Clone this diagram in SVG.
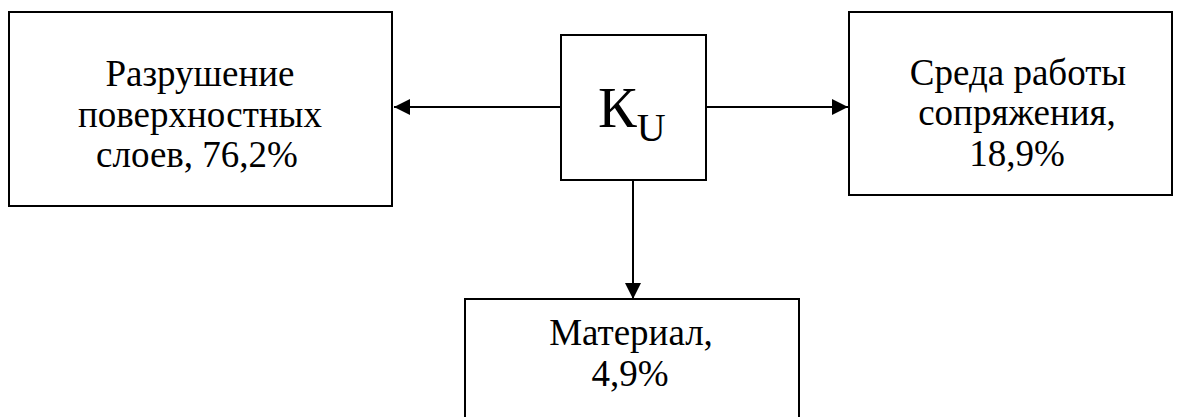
<svg xmlns="http://www.w3.org/2000/svg" width="1181" height="417" viewBox="0 0 1181 417">
<style>
.box{fill:#fff;stroke:#000;stroke-width:2}
.c{stroke:#000;stroke-width:2;fill:none}
</style>
<defs>
<marker id="ah" viewBox="0 0 16 16" refX="16" refY="8" markerWidth="16" markerHeight="16" markerUnits="userSpaceOnUse" orient="auto">
<path d="M0,0 L16,8 L0,16 Z" fill="#000"/>
</marker>
</defs>
<rect width="1181" height="417" fill="#fff"/>
<g id="connectors">
<line class="c" x1="561" y1="107" x2="394" y2="107" marker-end="url(#ah)"/>
<line class="c" x1="706" y1="107" x2="848" y2="107" marker-end="url(#ah)"/>
<line class="c" x1="633" y1="180" x2="633" y2="299" marker-end="url(#ah)"/>
</g>
<g font-family="Liberation Serif, Times New Roman, serif" font-size="37" fill="#000" text-anchor="middle">
<g id="node-left">
<rect class="box" x="9" y="12" width="383" height="194"/>
<text x="200" y="86">Разрушение</text>
<text x="200" y="127">поверхностных</text>
<text x="197" y="167">слоев, 76,2%</text>
</g>
<g id="node-center">
<rect class="box" x="561" y="35" width="145" height="145"/>
<text text-anchor="start" font-size="58" x="598" y="127">К<tspan font-size="40" dy="14">U</tspan></text>
</g>
<g id="node-right">
<rect class="box" x="849" y="12" width="323" height="183"/>
<text x="1018" y="85">Среда работы</text>
<text x="1017" y="125">сопряжения,</text>
<text x="1017" y="166">18,9%</text>
</g>
<g id="node-bottom">
<rect class="box" x="465" y="299" width="334" height="130"/>
<text x="631" y="345">Материал,</text>
<text x="630" y="386">4,9%</text>
</g>
</g>
</svg>
